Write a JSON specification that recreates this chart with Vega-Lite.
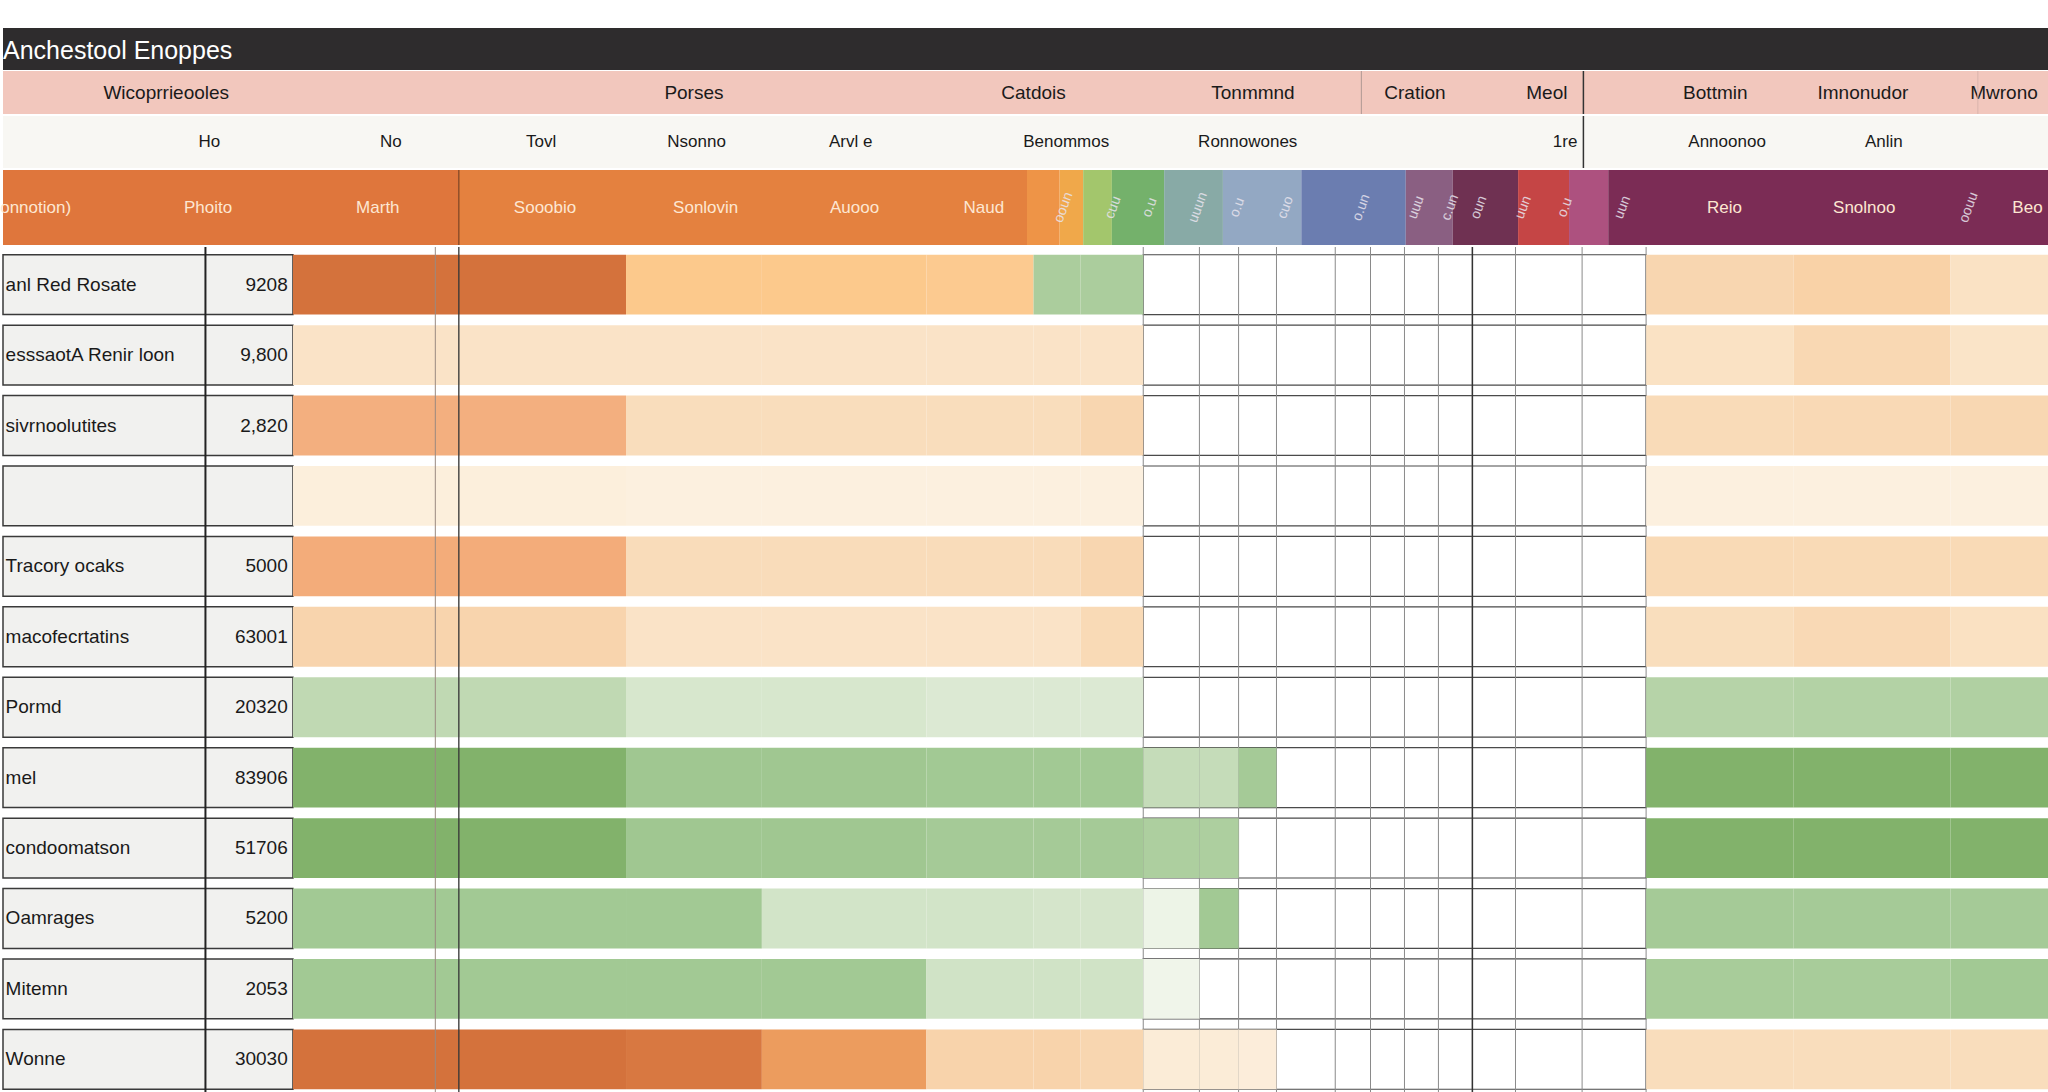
{
"$schema": "https://vega.github.io/schema/vega-lite/v6.json",
"background": "white",
"padding": {"left": 0, "right": 0, "top": 28, "bottom": 0},
"spacing": 0,
"config": {"view": {"stroke": null}, "font": "Liberation Sans", "concat": {"spacing": 0}},
"resolve": {"scale": {"x": "independent", "y": "independent", "color": "independent"}},
"datasets": {
"cols": [
{"col":"A","kind":"heat","start":222,"end":349},
{"col":"B","kind":"heat","start":349,"end":477},
{"col":"C","kind":"heat","start":477,"end":581},
{"col":"D","kind":"heat","start":581,"end":707},
{"col":"E","kind":"heat","start":707,"end":789},
{"col":"F1","kind":"heat","start":789,"end":825},
{"col":"F2","kind":"heat","start":825,"end":873},
{"col":"G1","kind":"grid","start":873,"end":916},
{"col":"G2","kind":"grid","start":916,"end":946},
{"col":"G3","kind":"grid","start":946,"end":975},
{"col":"G4","kind":"grid","start":975,"end":1020},
{"col":"G5","kind":"grid","start":1020,"end":1047},
{"col":"G6","kind":"grid","start":1047,"end":1073},
{"col":"G7","kind":"grid","start":1073,"end":1099},
{"col":"G8","kind":"grid","start":1099,"end":1125},
{"col":"G9","kind":"grid","start":1125,"end":1158},
{"col":"G10","kind":"grid","start":1158,"end":1209},
{"col":"G11","kind":"grid","start":1209,"end":1258},
{"col":"R1","kind":"right","start":1258,"end":1371},
{"col":"R2","kind":"right","start":1371,"end":1491},
{"col":"R3","kind":"right","start":1491,"end":1568}
],
"rows": [
{"r":"r1","label":"anl Red Rosate","amount":"9208"},
{"r":"r2","label":"esssaotA Renir loon","amount":"9,800"},
{"r":"r3","label":"sivrnoolutites","amount":"2,820"},
{"r":"r4","label":"","amount":""},
{"r":"r5","label":"Tracory ocaks","amount":"5000"},
{"r":"r6","label":"macofecrtatins","amount":"63001"},
{"r":"r7","label":"Pormd","amount":"20320"},
{"r":"r8","label":"mel","amount":"83906"},
{"r":"r9","label":"condoomatson","amount":"51706"},
{"r":"r10","label":"Oamrages","amount":"5200"},
{"r":"r11","label":"Mitemn","amount":"2053"},
{"r":"r12","label":"Wonne","amount":"30030"}
],
"cells": [
{"r":"r1","col":"A","value":100},{"r":"r1","col":"B","value":100},{"r":"r1","col":"C","value":62},{"r":"r1","col":"D","value":62},{"r":"r1","col":"E","value":61},{"r":"r1","col":"F1","value":-68},{"r":"r1","col":"F2","value":-68},{"r":"r1","col":"R1","value":52},{"r":"r1","col":"R2","value":56},{"r":"r1","col":"R3","value":40},
{"r":"r2","col":"A","value":38},{"r":"r2","col":"B","value":38},{"r":"r2","col":"C","value":38},{"r":"r2","col":"D","value":38},{"r":"r2","col":"E","value":38},{"r":"r2","col":"F1","value":38},{"r":"r2","col":"F2","value":38},{"r":"r2","col":"R1","value":40},{"r":"r2","col":"R2","value":50},{"r":"r2","col":"R3","value":37},
{"r":"r3","col":"A","value":72},{"r":"r3","col":"B","value":72},{"r":"r3","col":"C","value":45},{"r":"r3","col":"D","value":45},{"r":"r3","col":"E","value":45},{"r":"r3","col":"F1","value":45},{"r":"r3","col":"F2","value":52},{"r":"r3","col":"R1","value":47},{"r":"r3","col":"R2","value":49},{"r":"r3","col":"R3","value":51},
{"r":"r4","col":"A","value":22},{"r":"r4","col":"B","value":22},{"r":"r4","col":"C","value":20},{"r":"r4","col":"D","value":20},{"r":"r4","col":"E","value":20},{"r":"r4","col":"F1","value":20},{"r":"r4","col":"F2","value":20},{"r":"r4","col":"R1","value":20},{"r":"r4","col":"R2","value":20},{"r":"r4","col":"R3","value":20},
{"r":"r5","col":"A","value":74},{"r":"r5","col":"B","value":74},{"r":"r5","col":"C","value":46},{"r":"r5","col":"D","value":46},{"r":"r5","col":"E","value":46},{"r":"r5","col":"F1","value":46},{"r":"r5","col":"F2","value":52},{"r":"r5","col":"R1","value":48},{"r":"r5","col":"R2","value":48},{"r":"r5","col":"R3","value":48},
{"r":"r6","col":"A","value":54},{"r":"r6","col":"B","value":54},{"r":"r6","col":"C","value":38},{"r":"r6","col":"D","value":38},{"r":"r6","col":"E","value":38},{"r":"r6","col":"F1","value":38},{"r":"r6","col":"F2","value":48},{"r":"r6","col":"R1","value":44},{"r":"r6","col":"R2","value":49},{"r":"r6","col":"R3","value":41},
{"r":"r7","col":"A","value":-52},{"r":"r7","col":"B","value":-52},{"r":"r7","col":"C","value":-32},{"r":"r7","col":"D","value":-32},{"r":"r7","col":"E","value":-28},{"r":"r7","col":"F1","value":-28},{"r":"r7","col":"F2","value":-28},{"r":"r7","col":"R1","value":-60},{"r":"r7","col":"R2","value":-62},{"r":"r7","col":"R3","value":-64},
{"r":"r8","col":"A","value":-98},{"r":"r8","col":"B","value":-98},{"r":"r8","col":"C","value":-76},{"r":"r8","col":"D","value":-76},{"r":"r8","col":"E","value":-74},{"r":"r8","col":"F1","value":-74},{"r":"r8","col":"F2","value":-74},{"r":"r8","col":"G1","value":-48},{"r":"r8","col":"G2","value":-48},{"r":"r8","col":"G3","value":-72},{"r":"r8","col":"R1","value":-98},{"r":"r8","col":"R2","value":-98},{"r":"r8","col":"R3","value":-98},
{"r":"r9","col":"A","value":-98},{"r":"r9","col":"B","value":-98},{"r":"r9","col":"C","value":-76},{"r":"r9","col":"D","value":-76},{"r":"r9","col":"E","value":-72},{"r":"r9","col":"F1","value":-72},{"r":"r9","col":"F2","value":-72},{"r":"r9","col":"G1","value":-66},{"r":"r9","col":"G2","value":-66},{"r":"r9","col":"R1","value":-98},{"r":"r9","col":"R2","value":-98},{"r":"r9","col":"R3","value":-98},
{"r":"r10","col":"A","value":-74},{"r":"r10","col":"B","value":-74},{"r":"r10","col":"C","value":-74},{"r":"r10","col":"D","value":-36},{"r":"r10","col":"E","value":-36},{"r":"r10","col":"F1","value":-34},{"r":"r10","col":"F2","value":-34},{"r":"r10","col":"G1","value":-14},{"r":"r10","col":"G2","value":-74},{"r":"r10","col":"R1","value":-72},{"r":"r10","col":"R2","value":-72},{"r":"r10","col":"R3","value":-72},
{"r":"r11","col":"A","value":-74},{"r":"r11","col":"B","value":-74},{"r":"r11","col":"C","value":-74},{"r":"r11","col":"D","value":-74},{"r":"r11","col":"E","value":-38},{"r":"r11","col":"F1","value":-38},{"r":"r11","col":"F2","value":-38},{"r":"r11","col":"G1","value":-12},{"r":"r11","col":"R1","value":-70},{"r":"r11","col":"R2","value":-70},{"r":"r11","col":"R3","value":-74},
{"r":"r12","col":"A","value":100},{"r":"r12","col":"B","value":100},{"r":"r12","col":"C","value":98},{"r":"r12","col":"D","value":86},{"r":"r12","col":"E","value":55},{"r":"r12","col":"F1","value":55},{"r":"r12","col":"F2","value":52},{"r":"r12","col":"G1","value":26},{"r":"r12","col":"G2","value":26},{"r":"r12","col":"G3","value":24},{"r":"r12","col":"R1","value":45},{"r":"r12","col":"R2","value":45},{"r":"r12","col":"R3","value":45}
],
"pink": [
{"t":"Wicoprrieooles","x":125},{"t":"Porses","x":529},{"t":"Catdois","x":789},{"t":"Tonmmnd","x":957},{"t":"Cration","x":1081},{"t":"Meol","x":1182},{"t":"Bottmin","x":1311},{"t":"Imnonudor","x":1424},{"t":"Mwrono","x":1532}
],
"light": [
{"t":"Ho","x":158},{"t":"No","x":297},{"t":"Tovl","x":412},{"t":"Nsonno","x":531},{"t":"Arvl e","x":649},{"t":"Benommos","x":814},{"t":"Ronnowones","x":953},{"t":"1re","x":1196},{"t":"Annoonoo","x":1320},{"t":"Anlin","x":1440}
],
"segs": [
{"seg":"s1","start":0,"end":349},{"seg":"s2","start":349,"end":784},{"seg":"s3","start":784,"end":809},{"seg":"s4","start":809,"end":827},{"seg":"s5","start":827,"end":849},{"seg":"s6","start":849,"end":889},{"seg":"s7","start":889,"end":934},{"seg":"s8","start":934,"end":994},{"seg":"s9","start":994,"end":1074},{"seg":"s10","start":1074,"end":1110},{"seg":"s11","start":1110,"end":1160},{"seg":"s12","start":1160,"end":1199},{"seg":"s13","start":1199,"end":1229},{"seg":"s14","start":1229,"end":1568}
],
"gradlabels": [
{"t":"onnotion)","x":25},{"t":"Phoito","x":157},{"t":"Marth","x":287},{"t":"Sooobio","x":415},{"t":"Sonlovin","x":538},{"t":"Auooo","x":652},{"t":"Naud","x":751},{"t":"Reio","x":1318},{"t":"Snolnoo","x":1425},{"t":"Beo","x":1550}
],
"stripelabels": [
{"t":"ooun","x":812},{"t":"cuu","x":850},{"t":"o.u","x":878},{"t":"uuun","x":915},{"t":"o.u","x":945},{"t":"cuo","x":982},{"t":"o.un","x":1040},{"t":"uuu","x":1082},{"t":"c.un","x":1108},{"t":"oun","x":1130},{"t":"uun","x":1164},{"t":"o.u","x":1196},{"t":"uun","x":1240},{"t":"oouu","x":1505}
]
},
"vconcat": [
{
"width": 2048, "height": 42,
"view": {"fill": "#2e2c2d", "stroke": null},
"data": {"values": [{"t": "Anchestool Enoppes"}]},
"mark": {"type": "text", "align": "left", "baseline": "middle", "color": "#ffffff", "fontSize": 25, "dy": 2},
"encoding": {
"x": {"datum": 0, "type": "quantitative", "scale": {"domain": [0, 1568], "nice": false, "zero": false}, "axis": null},
"text": {"field": "t"}
}
},
{
"width": 2048, "height": 43,
"view": {"fill": "#f2c7bd", "stroke": null},
"layer": [
{
"data": {"name": "pink"},
"mark": {"type": "text", "align": "center", "baseline": "middle", "color": "#1a1a1a", "fontSize": 19},
"encoding": {
"x": {"field": "x", "type": "quantitative", "scale": {"domain": [0, 1568], "nice": false, "zero": false}, "axis": null},
"text": {"field": "t"}
}
},
{"data": {"values": [{}]}, "mark": {"type": "rule", "color": "#b09a94", "strokeWidth": 1}, "encoding": {"x": {"datum": 1040, "type": "quantitative"}}},
{"data": {"values": [{}]}, "mark": {"type": "rule", "color": "#333333", "strokeWidth": 1.5}, "encoding": {"x": {"datum": 1210, "type": "quantitative"}}},
{"data": {"values": [{}]}, "mark": {"type": "rule", "color": "#d9b5ad", "strokeWidth": 1}, "encoding": {"x": {"datum": 1512, "type": "quantitative"}}}
]
},
{
"width": 2048, "height": 52,
"view": {"fill": "#f8f7f3", "stroke": null},
"layer": [
{
"data": {"name": "light"},
"mark": {"type": "text", "align": "center", "baseline": "middle", "color": "#1a1a1a", "fontSize": 17},
"encoding": {
"x": {"field": "x", "type": "quantitative", "scale": {"domain": [0, 1568], "nice": false, "zero": false}, "axis": null},
"text": {"field": "t"}
}
},
{"data": {"values": [{}]}, "mark": {"type": "rule", "color": "#333333", "strokeWidth": 1.5}, "encoding": {"x": {"datum": 1210, "type": "quantitative"}}}
]
},
{
"width": 2048, "height": 75,
"layer": [
{
"data": {"name": "segs"},
"mark": {"type": "rect"},
"encoding": {
"x": {"field": "start", "type": "quantitative", "scale": {"domain": [0, 1568], "nice": false, "zero": false}, "axis": null},
"x2": {"field": "end"},
"color": {"field": "seg", "type": "nominal", "legend": null,
"scale": {"domain": ["s1","s2","s3","s4","s5","s6","s7","s8","s9","s10","s11","s12","s13","s14"],
"range": ["#df763c","#e4813f","#ee9447","#f0a84a","#a3c66c","#74b16b","#88aaa6","#93a8c3","#6b7db0","#8a5f82","#6f3152","#c54545","#ad517f","#7b2c55"]}}
}
},
{"data": {"values": [{}]}, "mark": {"type": "rule", "color": "#7a3f1f", "strokeWidth": 1.2}, "encoding": {"x": {"datum": 349, "type": "quantitative"}}},
{
"data": {"name": "gradlabels"},
"mark": {"type": "text", "align": "center", "baseline": "middle", "color": "#fde7d2", "fontSize": 17},
"encoding": {"x": {"field": "x", "type": "quantitative"}, "text": {"field": "t"}}
},
{
"data": {"name": "stripelabels"},
"mark": {"type": "text", "align": "center", "baseline": "middle", "color": "#e8e4ee", "fontSize": 14, "angle": 290, "opacity": 0.85},
"encoding": {"x": {"field": "x", "type": "quantitative"}, "text": {"field": "t"}}
}
]
},
{
"width": 2048, "height": 850,
"encoding": {
"y": {"field": "r", "type": "nominal", "axis": null,
"scale": {"domain": ["r1","r2","r3","r4","r5","r6","r7","r8","r9","r10","r11","r12"], "paddingInner": 0.15, "paddingOuter": 0.11}}
},
"layer": [
{
"data": {"name": "rows"},
"mark": {"type": "rect", "fill": "#f1f1ef", "stroke": "#3a3a3a", "strokeWidth": 1.5},
"encoding": {
"x": {"datum": 0, "type": "quantitative", "scale": {"domain": [0, 1568], "nice": false, "zero": false}, "axis": null},
"x2": {"datum": 222}
}
},
{
"data": {"name": "rows"},
"mark": {"type": "rect", "fill": "#ffffff", "stroke": "#4a4a4a", "strokeWidth": 1.2},
"encoding": {"x": {"datum": 873, "type": "quantitative"}, "x2": {"datum": 1258}}
},
{
"data": {"name": "cols"},
"transform": [{"filter": "datum.kind == 'grid' || datum.col == 'R1'"}],
"mark": {"type": "rule", "color": "#8a8a8a", "strokeWidth": 1},
"encoding": {"x": {"field": "start", "type": "quantitative"}, "y": null}
},
{
"data": {"name": "cells"},
"transform": [{"lookup": "col", "from": {"data": {"name": "cols"}, "key": "col", "fields": ["start", "end"]}}],
"mark": {"type": "rect"},
"encoding": {
"x": {"field": "start", "type": "quantitative"},
"x2": {"field": "end"},
"color": {"field": "value", "type": "quantitative", "legend": null,
"scale": {"domain": [-100, -75, -50, -30, -15, 0, 20, 40, 55, 62, 70, 85, 100],
"range": ["#7fb068", "#a1c893", "#c3dbb6", "#d9e8d0", "#ecf3e6", "#fdfdfb", "#fcf0df", "#fae2c4", "#f8d3ab", "#fcc98c", "#f4b183", "#ee9f61", "#d4723c"]}}
}
},
{"data": {"values": [{}]}, "mark": {"type": "rule", "color": "#222222", "strokeWidth": 2}, "encoding": {"x": {"datum": 155, "type": "quantitative"}, "y": null}},
{"data": {"values": [{}]}, "mark": {"type": "rule", "color": "#9a8a80", "strokeWidth": 1}, "encoding": {"x": {"datum": 331, "type": "quantitative"}, "y": null}},
{"data": {"values": [{}]}, "mark": {"type": "rule", "color": "#333333", "strokeWidth": 1.3}, "encoding": {"x": {"datum": 349, "type": "quantitative"}, "y": null}},
{"data": {"values": [{}]}, "mark": {"type": "rule", "color": "#333333", "strokeWidth": 1.5}, "encoding": {"x": {"datum": 1125, "type": "quantitative"}, "y": null}},
{
"data": {"name": "rows"},
"mark": {"type": "text", "align": "left", "baseline": "middle", "color": "#1a1a1a", "fontSize": 19, "font": "Liberation Sans"},
"encoding": {"x": {"datum": 2, "type": "quantitative"}, "text": {"field": "label"}}
},
{
"data": {"name": "rows"},
"mark": {"type": "text", "align": "right", "baseline": "middle", "color": "#1a1a1a", "fontSize": 19, "font": "Liberation Sans"},
"encoding": {"x": {"datum": 218, "type": "quantitative"}, "text": {"field": "amount"}}
}
]
}
]
}
